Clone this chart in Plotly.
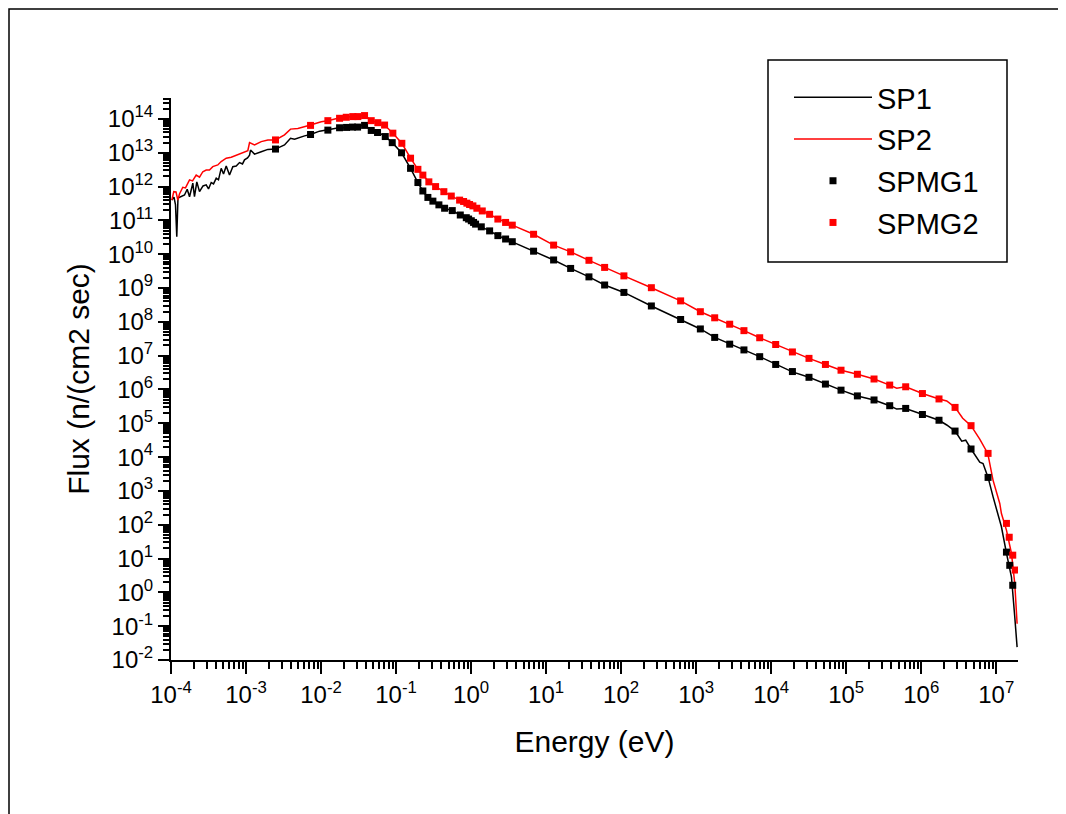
import numpy as np
import plotly.graph_objects as go

# ---- data (stored as log10 values) ----
# SP1 continuous spectrum (black line): log10(E / eV), log10(flux)
sp1_log_e = [-3.989, -3.96, -3.94, -3.923, -3.907, -3.873, -3.82, -3.784, -3.753, -3.709,
             -3.687, -3.656, -3.62, -3.573, -3.531, -3.50, -3.464, -3.433, -3.397, -3.367,
             -3.331, -3.30, -3.264, -3.22, -3.176, -3.131, -3.087, -3.047, -3.02, -2.98,
             -2.953, -2.94, -2.887, -2.797, -2.709, -2.607, -2.487, -2.407, -2.353, -2.22,
             -2.14, -2.02, -1.909, -1.78, -1.687, -1.509, -1.42, -1.331, -1.247, -1.144,
             -1.051, -0.927, -0.807, -0.709, -0.643, -0.576, -0.509, -0.429, -0.353, -0.251,
             -0.144, -0.064, 0.003, 0.06, 0.136, 0.247, 0.357, 0.46, 0.549, 0.833,
             1.10, 1.327, 1.571, 1.78, 2.037, 2.403, 2.793, 3.056, 3.247, 3.447,
             3.637, 3.847, 4.06, 4.283, 4.504, 4.723, 4.931, 5.149, 5.371, 5.58,
             5.673, 5.793, 6.016, 6.237, 6.34, 6.451, 6.54, 6.593, 6.664, 6.78,
             6.824, 6.891, 6.957, 7.047, 7.069, 7.136, 7.203, 7.247, 7.278]
sp1_log_flux = [11.60, 11.69, 11.46, 10.52, 11.66, 11.69, 11.75, 11.92, 11.70, 12.10,
                11.70, 12.14, 11.85, 12.02, 12.05, 11.93, 12.12, 12.08, 12.25, 12.20,
                12.54, 12.37, 12.61, 12.34, 12.59, 12.61, 12.71, 12.67, 12.79, 12.85,
                12.93, 13.08, 12.96, 13.03, 13.10, 13.11, 13.23, 13.43, 13.40, 13.50,
                13.54, 13.64, 13.69, 13.73, 13.75, 13.79, 13.82, 13.67, 13.62, 13.48,
                13.30, 13.00, 12.54, 12.12, 11.87, 11.68, 11.57, 11.46, 11.36, 11.29,
                11.16, 11.08, 10.99, 10.89, 10.81, 10.69, 10.55, 10.45, 10.37, 10.09,
                9.83, 9.58, 9.33, 9.09, 8.87, 8.47, 8.07, 7.79, 7.54, 7.34,
                7.17, 6.97, 6.74, 6.52, 6.36, 6.16, 5.98, 5.81, 5.69, 5.52,
                5.42, 5.44, 5.26, 5.09, 4.95, 4.77, 4.47, 4.50, 4.24, 3.85,
                3.81, 3.40, 2.83, 2.13, 1.94, 1.16, 0.45, -0.73, -1.62]

# SP2 continuous spectrum (red line)
sp2_log_e = [-3.989, -3.963, -3.933, -3.909, -3.887, -3.843, -3.807, -3.753, -3.713, -3.664,
             -3.62, -3.576, -3.531, -3.487, -3.443, -3.376, -3.331, -3.264, -3.197, -3.131,
             -3.064, -2.976, -2.953, -2.887, -2.797, -2.709, -2.607, -2.487, -2.407, -2.309,
             -2.14, -1.997, -1.909, -1.776, -1.597, -1.42, -1.331, -1.243, -1.153, -1.043,
             -0.923, -0.807, -0.709, -0.643, -0.563, -0.473, -0.363, -0.264, -0.153, -0.056,
             0.024, 0.077, 0.149, 0.247, 0.357, 0.46, 0.549, 0.833, 1.10, 1.327,
             1.571, 1.78, 2.037, 2.403, 2.793, 3.056, 3.247, 3.447, 3.637, 3.847,
             4.06, 4.283, 4.504, 4.723, 4.931, 5.149, 5.371, 5.58, 5.673, 5.793,
             6.016, 6.237, 6.34, 6.451, 6.553, 6.664, 6.78, 6.887, 6.957, 7.047,
             7.069, 7.136, 7.203, 7.247, 7.278]
sp2_log_flux = [11.60, 11.85, 11.84, 11.60, 11.78, 11.98, 11.96, 12.20, 12.17, 12.34,
                12.28, 12.44, 12.49, 12.49, 12.59, 12.64, 12.74, 12.84, 12.87, 12.93,
                13.00, 13.06, 13.30, 13.23, 13.33, 13.38, 13.38, 13.53, 13.70, 13.72,
                13.82, 13.92, 13.95, 14.02, 14.07, 14.11, 13.95, 13.89, 13.82, 13.58,
                13.28, 12.84, 12.51, 12.34, 12.14, 12.00, 11.85, 11.72, 11.60, 11.51,
                11.43, 11.36, 11.28, 11.18, 11.04, 10.94, 10.86, 10.59, 10.27, 10.07,
                9.82, 9.61, 9.36, 9.01, 8.62, 8.30, 8.12, 7.93, 7.74, 7.53,
                7.33, 7.11, 6.92, 6.74, 6.57, 6.45, 6.31, 6.13, 6.04, 6.08,
                5.88, 5.72, 5.66, 5.47, 5.15, 4.93, 4.53, 4.11, 3.32, 2.63,
                2.33, 1.84, 1.15, 0.26, -0.93]

# SPMG1 multigroup values (black squares)
spmg1_log_e = [-2.607, -2.14, -1.909, -1.753, -1.66, -1.58, -1.513, -1.42, -1.331, -1.247,
               -1.144, -1.051, -0.927, -0.807, -0.709, -0.643, -0.576, -0.509, -0.429, -0.353,
               -0.251, -0.144, -0.064, -0.033, 0.003, 0.033, 0.06, 0.136, 0.247, 0.357,
               0.46, 0.549, 0.833, 1.10, 1.327, 1.571, 1.78, 2.037, 2.403, 2.793,
               3.056, 3.247, 3.447, 3.637, 3.847, 4.06, 4.283, 4.504, 4.723, 4.931,
               5.149, 5.371, 5.58, 5.793, 6.016, 6.237, 6.451, 6.664, 6.891, 7.136,
               7.18, 7.22]
spmg1_log_flux = [13.11, 13.54, 13.67, 13.74, 13.75, 13.76, 13.76, 13.81, 13.66, 13.60,
                  13.48, 13.30, 13.00, 12.54, 12.12, 11.87, 11.68, 11.57, 11.46, 11.36,
                  11.29, 11.16, 11.08, 11.04, 10.99, 10.94, 10.89, 10.81, 10.69, 10.55,
                  10.45, 10.37, 10.09, 9.83, 9.58, 9.33, 9.09, 8.87, 8.47, 8.07,
                  7.79, 7.54, 7.34, 7.17, 6.97, 6.74, 6.53, 6.36, 6.16, 5.98,
                  5.81, 5.69, 5.52, 5.44, 5.26, 5.09, 4.77, 4.24, 3.40, 1.19,
                  0.80, 0.21]

# SPMG2 multigroup values (red squares)
spmg2_log_e = [-2.607, -2.14, -1.909, -1.753, -1.664, -1.576, -1.509, -1.42, -1.331, -1.243,
               -1.153, -1.043, -0.923, -0.807, -0.709, -0.643, -0.563, -0.473, -0.363, -0.264,
               -0.153, -0.10, -0.056, -0.02, 0.024, 0.077, 0.149, 0.247, 0.357, 0.46,
               0.549, 0.833, 1.10, 1.327, 1.571, 1.78, 2.037, 2.403, 2.793, 3.056,
               3.247, 3.447, 3.637, 3.847, 4.06, 4.283, 4.504, 4.723, 4.931, 5.149,
               5.371, 5.58, 5.793, 6.016, 6.237, 6.451, 6.664, 6.891, 7.136, 7.173,
               7.22, 7.253]
spmg2_log_flux = [13.38, 13.81, 13.95, 14.02, 14.05, 14.07, 14.07, 14.10, 13.95, 13.89,
                  13.82, 13.58, 13.28, 12.84, 12.51, 12.34, 12.14, 12.00, 11.85, 11.72,
                  11.60, 11.56, 11.51, 11.47, 11.43, 11.36, 11.28, 11.18, 11.04, 10.94,
                  10.86, 10.59, 10.27, 10.07, 9.82, 9.61, 9.36, 9.01, 8.62, 8.30,
                  8.12, 7.93, 7.74, 7.53, 7.33, 7.11, 6.92, 6.74, 6.57, 6.45,
                  6.31, 6.13, 6.08, 5.88, 5.72, 5.47, 4.93, 4.11, 2.04, 1.63,
                  1.10, 0.66]

x_tick_exps = [-4, -3, -2, -1, 0, 1, 2, 3, 4, 5, 6, 7]
y_tick_exps = list(range(-2, 15))

def pw(a):
    return 10.0 ** np.asarray(a, dtype=float)

FONT = "Liberation Sans, Arial, sans-serif"

fig = go.Figure()
fig.add_trace(go.Scatter(x=pw(sp1_log_e), y=pw(sp1_log_flux), mode="lines", name="SP1",
                         legendgroup="a", line=dict(color="black", width=1.5)))
fig.add_trace(go.Scatter(x=pw(sp2_log_e), y=pw(sp2_log_flux), mode="lines", name="SP2",
                         legendgroup="b", line=dict(color="#ff0000", width=1.5)))
fig.add_trace(go.Scatter(x=pw(spmg1_log_e), y=pw(spmg1_log_flux), mode="markers", name="SPMG1",
                         legendgroup="c", marker=dict(symbol="square", size=7, color="black")))
fig.add_trace(go.Scatter(x=pw(spmg2_log_e), y=pw(spmg2_log_flux), mode="markers", name="SPMG2",
                         legendgroup="d", marker=dict(symbol="square", size=7, color="#ff0000")))

def sup_labels(exps):
    return ["10<sup>%d</sup>" % e for e in exps]

# page body has an 8px margin, so the figure is drawn 8px in from the window edge
OFF = 8
W, H = 1066 - OFF, 814 - OFF
PLOT_L, PLOT_R, PLOT_T, PLOT_B = 171, 1018, 98, 660   # target screen pixels
L = PLOT_L - OFF
T = PLOT_T - OFF
R = W - (PLOT_R - OFF)
B = H - (PLOT_B - OFF)
pw_w = W - L - R
pw_h = H - T - B

def px_x(sx):
    return (sx - OFF - L) / pw_w

def px_y(sy):
    return (H - B - (sy - OFF)) / pw_h

fig.update_layout(
    width=W, height=H,
    margin=dict(l=L, r=R, t=T, b=B, autoexpand=False),
    paper_bgcolor="white", plot_bgcolor="white",
    font=dict(family=FONT, color="black", size=24),
    showlegend=True,
    legend=dict(x=px_x(789), y=px_y(72), xanchor="left", yanchor="top",
                bgcolor="rgba(0,0,0,0)", borderwidth=0,
                font=dict(family=FONT, size=29, color="black"),
                itemwidth=78, tracegroupgap=1),
    xaxis=dict(type="log", range=[-4, 7.29], showgrid=False, zeroline=False,
               showline=True, linecolor="black", linewidth=2, mirror=False,
               ticks="outside", ticklen=12, tickwidth=2, tickcolor="black",
               tickvals=pw(x_tick_exps), ticktext=sup_labels(x_tick_exps),
               tickfont=dict(family=FONT, size=24),
               minor=dict(ticks="outside", ticklen=7, tickwidth=1.5, tickcolor="black",
                          dtick="D1", showgrid=False),
               title=dict(text="Energy (eV)", font=dict(family=FONT, size=30), standoff=24)),
    yaxis=dict(type="log", range=[-2, 14.62], showgrid=False, zeroline=False,
               showline=True, linecolor="black", linewidth=2, mirror=False,
               ticks="outside", ticklen=11, tickwidth=2, tickcolor="black",
               tickvals=pw(y_tick_exps), ticktext=sup_labels(y_tick_exps),
               tickfont=dict(family=FONT, size=24),
               minor=dict(ticks="outside", ticklen=6, tickwidth=1.5, tickcolor="black",
                          dtick="D1", showgrid=False),
               title=dict(text="Flux (n/(cm2 sec)", font=dict(family=FONT, size=30), standoff=9)),
    shapes=[
        # legend frame
        dict(type="rect", xref="paper", yref="paper",
             x0=px_x(768), x1=px_x(1007), y0=px_y(262), y1=px_y(60),
             line=dict(color="black", width=1.5), fillcolor="rgba(0,0,0,0)"),
        # outer picture frame
        dict(type="rect", xref="paper", yref="paper",
             x0=px_x(9), x1=px_x(1061), y0=px_y(830), y1=px_y(9),
             line=dict(color="black", width=1.5), fillcolor="rgba(0,0,0,0)"),
    ],
)

fig.write_html("out.html")
